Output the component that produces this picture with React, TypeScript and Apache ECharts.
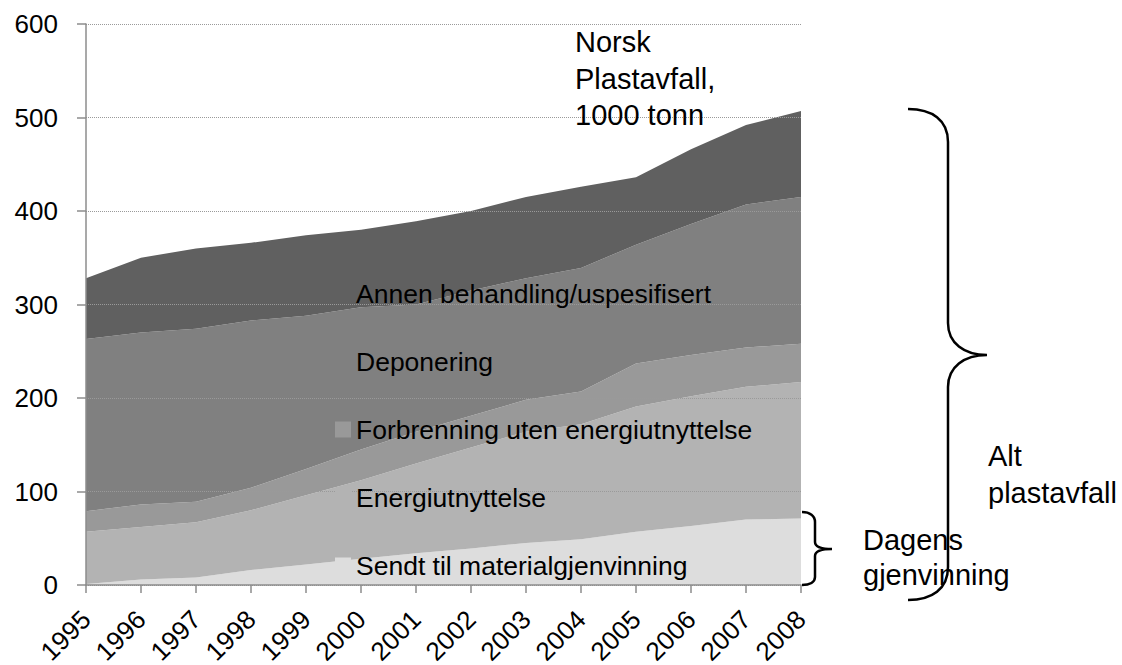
import React, { useEffect, useRef } from "react";
import * as echarts from "echarts";

const years = ["1995","1996","1997","1998","1999","2000","2001","2002","2003","2004","2005","2006","2007","2008"];
const sendt = [1, 6, 8, 16, 22, 28, 34, 39, 45, 49, 57, 63, 70, 71];
const energi = [56, 56, 59, 64, 74, 84, 96, 108, 119, 123, 134, 139, 142, 146];
const forbrenning = [22, 24, 22, 24, 28, 33, 34, 34, 34, 35, 46, 44, 42, 41];
const deponering = [184, 184, 185, 179, 164, 152, 136, 134, 130, 132, 127, 140, 153, 157];
const annen = [65, 80, 86, 83, 86, 83, 89, 85, 87, 87, 72, 80, 85, 92];

const seriesNames = [
  "Sendt til materialgjenvinning",
  "Energiutnyttelse",
  "Forbrenning uten energiutnyttelse",
  "Deponering",
  "Annen behandling/uspesifisert",
];
const seriesColors = ["#dddddd", "#b3b3b3", "#999999", "#808080", "#606060"];
const seriesData = [sendt, energi, forbrenning, deponering, annen];

const FONT = "'Liberation Sans', Arial, sans-serif";

const bigBraceD =
  "M 908 109 C 932 109 948 120 948 142 L 948 323 C 948 343 964 355 987 355 C 964 355 948 367 948 387 L 948 567 C 948 589 932 600 908 600";
const smallBraceD =
  "M 802 512 C 810 512 815 516 815 522 L 815 542 C 815 547 822 549 832 549 C 822 549 815 551 815 556 L 815 577 C 815 582 810 585 802 585";

let registered = false;
function registerShapes() {
  if (registered) return;
  registered = true;
  echarts.graphic.registerShape("bigBrace", echarts.graphic.extendPath(bigBraceD, {}));
  echarts.graphic.registerShape("smallBrace", echarts.graphic.extendPath(smallBraceD, {}));
}

export default function App() {
  const ref = useRef<HTMLDivElement>(null);
  useEffect(() => {
    registerShapes();
    const chart = echarts.init(ref.current!, null, { renderer: "svg" });
    chart.setOption({
      animation: false,
      backgroundColor: "#ffffff",
      textStyle: { fontFamily: FONT },
      grid: { left: 86, right: 321, top: 24, bottom: 80, containLabel: false, outerBoundsMode: "none" },
      legend: {
        orient: "vertical",
        left: 335,
        top: 280,
        padding: 0,
        itemGap: 41,
        itemWidth: 16,
        itemHeight: 16,
        icon: "rect",
        selectedMode: false,
        data: [...seriesNames].reverse(),
        textStyle: { fontSize: 26.5, color: "#000", fontFamily: FONT },
      },
      xAxis: {
        type: "category",
        data: years,
        boundaryGap: false,
        axisLine: { lineStyle: { color: "#8c8c8c", width: 1.5 } },
        axisTick: { show: true, length: 8, lineStyle: { color: "#8c8c8c", width: 1.5 } },
        axisLabel: {
          rotate: 45,
          margin: 30,
          padding: [14, 0, 0, 0],
          fontSize: 26,
          color: "#000",
          fontFamily: FONT,
          interval: 0,
        },
        splitLine: { show: false },
        z: 3,
      },
      yAxis: {
        type: "value",
        min: 0,
        max: 600,
        interval: 100,
        axisLine: { show: true, lineStyle: { color: "#8c8c8c", width: 1.5 } },
        axisTick: { show: true, length: 9, lineStyle: { color: "#8c8c8c", width: 1.5 } },
        axisLabel: { margin: 28, fontSize: 26, color: "#000", fontFamily: FONT },
        splitLine: { show: true, lineStyle: { color: "#9a9a9a", type: "dotted", width: 1 } },
        z: 3,
      },
      series: seriesNames.map((name, i) => ({
        name,
        type: "line",
        stack: "total",
        data: seriesData[i],
        symbol: "none",
        lineStyle: { width: 0 },
        itemStyle: { color: seriesColors[i] },
        areaStyle: { color: seriesColors[i], opacity: 1 },
        z: 2,
      })),
      graphic: [
        {
          type: "text",
          x: 575,
          y: 24,
          style: {
            text: "Norsk\nPlastavfall,\n1000 tonn",
            fontSize: 29,
            fontFamily: FONT,
            fill: "#000",
            lineHeight: 36.5,
            verticalAlign: "top",
          },
          z: 10,
        },
        {
          type: "text",
          x: 988,
          y: 437.5,
          style: {
            text: "Alt\nplastavfall",
            fontSize: 29,
            fontFamily: FONT,
            fill: "#000",
            lineHeight: 37,
            verticalAlign: "top",
          },
          z: 10,
        },
        {
          type: "text",
          x: 863,
          y: 522.5,
          style: {
            text: "Dagens\ngjenvinning",
            fontSize: 29,
            fontFamily: FONT,
            fill: "#000",
            lineHeight: 35,
            verticalAlign: "top",
          },
          z: 10,
        },
        {
          type: "bigBrace",
          x: 0,
          y: 0,
          style: { fill: "none", stroke: "#000", lineWidth: 2.5 },
          z: 11,
        },
        {
          type: "smallBrace",
          x: 0,
          y: 0,
          style: { fill: "none", stroke: "#000", lineWidth: 2.5 },
          z: 11,
        },
      ],
    });
    return () => chart.dispose();
  }, []);
  return (
    <div
      ref={ref}
      style={{ position: "fixed", left: 0, top: 0, width: 1122, height: 665, background: "#fff" }}
    />
  );
}
